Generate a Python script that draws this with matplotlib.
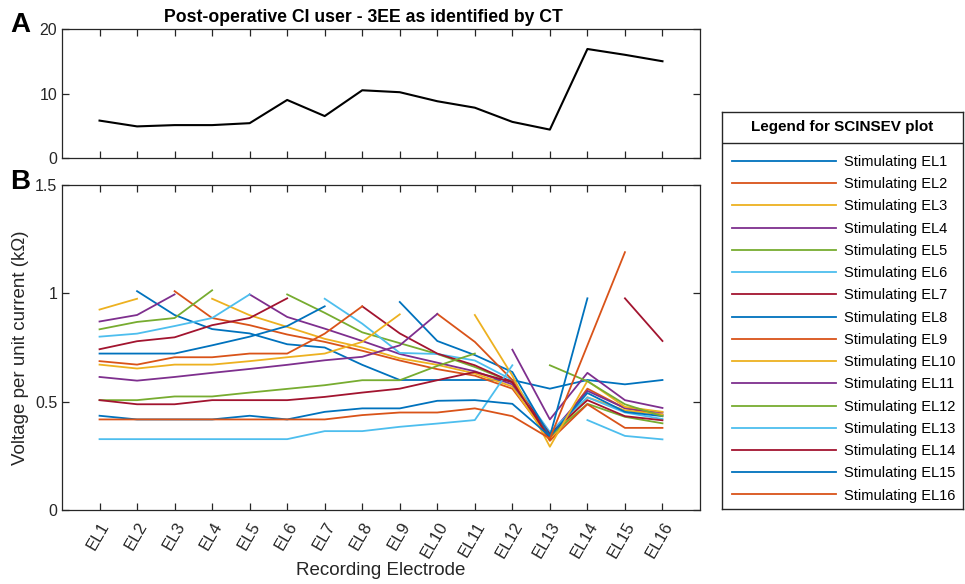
import matplotlib
matplotlib.use('Agg')
import matplotlib.pyplot as plt
import numpy as np

plt.rcParams['font.family'] = ['Liberation Sans', 'DejaVu Sans']

nan = np.nan

electrodes = [f'EL{i}' for i in range(1, 17)]

# panel A: EL spread as identified by CT
ct_values = [5.8, 4.9, 5.1, 5.1, 5.4, 9.0, 6.5, 10.5, 10.2, 8.8, 7.8, 5.6, 4.4, 16.9, 16.0, 15.0]

# panel B: one row per stimulating electrode, NaN at the stimulating one
stim_el1 = [nan, 1.01, 0.90, 0.835, 0.815, 0.765, 0.75, 0.67, 0.60, 0.60, 0.60, 0.60, 0.56, 0.60, 0.58, 0.60]
stim_el2 = [0.69, nan, 1.01, 0.886, 0.853, 0.81, 0.776, 0.735, 0.69, 0.65, 0.62, 0.56, 0.33, 0.56, 0.47, 0.44]
stim_el3 = [0.925, 0.975, nan, 0.975, 0.899, 0.845, 0.79, 0.75, 0.70, 0.67, 0.63, 0.57, 0.32, 0.52, 0.46, 0.44]
stim_el4 = [0.87, 0.90, 0.995, nan, 0.995, 0.891, 0.837, 0.78, 0.72, 0.68, 0.64, 0.58, 0.35, 0.55, 0.47, 0.45]
stim_el5 = [0.834, 0.868, 0.886, 1.014, nan, 0.995, 0.91, 0.82, 0.77, 0.72, 0.66, 0.59, 0.34, 0.49, 0.43, 0.40]
stim_el6 = [0.80, 0.814, 0.849, 0.886, 0.995, nan, 0.975, 0.86, 0.725, 0.72, 0.69, 0.60, 0.36, 0.52, 0.45, 0.42]
stim_el7 = [0.742, 0.779, 0.797, 0.853, 0.886, 0.977, nan, 0.94, 0.815, 0.722, 0.668, 0.59, 0.35, 0.507, 0.433, 0.414]
stim_el8 = [0.722, 0.722, 0.722, 0.76, 0.80, 0.849, 0.94, nan, 0.96, 0.78, 0.715, 0.637, 0.34, 0.54, 0.453, 0.433]
stim_el9 = [0.687, 0.671, 0.705, 0.705, 0.722, 0.722, 0.814, 0.94, nan, 0.905, 0.776, 0.60, 0.32, 0.488, 0.379, 0.379]
stim_el10 = [0.671, 0.653, 0.671, 0.671, 0.687, 0.705, 0.722, 0.776, 0.903, nan, 0.90, 0.62, 0.292, 0.596, 0.476, 0.453]
stim_el11 = [0.614, 0.597, 0.614, 0.633, 0.651, 0.67, 0.691, 0.707, 0.76, 0.905, nan, 0.74, 0.418, 0.633, 0.507, 0.471]
stim_el12 = [0.507, 0.507, 0.524, 0.524, 0.542, 0.559, 0.576, 0.599, 0.599, 0.665, 0.722, nan, 0.668, 0.594, 0.488, 0.433]
stim_el13 = [0.327, 0.327, 0.327, 0.327, 0.327, 0.327, 0.364, 0.364, 0.384, 0.399, 0.415, 0.668, nan, 0.415, 0.342, 0.326]
stim_el14 = [0.507, 0.488, 0.488, 0.507, 0.507, 0.507, 0.522, 0.542, 0.56, 0.599, 0.637, 0.59, 0.33, nan, 0.977, 0.78]
stim_el15 = [0.435, 0.418, 0.418, 0.418, 0.435, 0.418, 0.453, 0.469, 0.469, 0.504, 0.507, 0.49, 0.34, 0.977, nan, 0.58]
stim_el16 = [0.418, 0.418, 0.418, 0.418, 0.418, 0.418, 0.418, 0.438, 0.45, 0.45, 0.469, 0.433, 0.33, 0.76, 1.19, nan]

scinsev = [stim_el1, stim_el2, stim_el3, stim_el4, stim_el5, stim_el6, stim_el7, stim_el8,
           stim_el9, stim_el10, stim_el11, stim_el12, stim_el13, stim_el14, stim_el15, stim_el16]
labels = [f'Stimulating EL{i}' for i in range(1, 17)]

# MATLAB default colour order
colors = ['#0072BD', '#D95319', '#EDB120', '#7E2F8E', '#77AC30', '#4DBEEE', '#A2142F']

x = np.arange(1, 17)
W, H = 965, 584
spine_col = '#262626'


def style_axes(ax):
    for s in ax.spines.values():
        s.set_color(spine_col)
        s.set_linewidth(0.9)
    ax.tick_params(direction='in', length=5, width=0.9, color=spine_col,
                   top=True, right=True, labelsize=11.5, labelcolor=spine_col)
    ax.set_xlim(0, 17)
    ax.set_xticks(x)


fig = plt.figure(figsize=(W / 100, H / 100), dpi=100)

axA = fig.add_axes([62 / W, 1 - 158 / H, 638 / W, 129 / H])
axA.plot(x, ct_values, color='black', lw=1.5)
style_axes(axA)
axA.set_ylim(0, 20)
axA.set_yticks([0, 10, 20])
axA.set_xticklabels([])
fig.text(363 / W, 1 - 17 / H, 'Post-operative CI user - 3EE as identified by CT',
         fontsize=12.7, fontweight='bold', ha='center', va='center')

axB = fig.add_axes([62 / W, 1 - 510 / H, 638 / W, 325 / H])
handles = []
for i, vals in enumerate(scinsev):
    h, = axB.plot(x, vals, color=colors[i % 7], lw=1.3, label=labels[i])
    handles.append(h)
style_axes(axB)
axB.set_ylim(0, 1.5)
axB.set_yticks([0, 0.5, 1, 1.5])
axB.set_yticklabels(['0', '0.5', '1', '1.5'])
axB.set_xticklabels(electrodes, rotation=60, ha='right', rotation_mode='anchor', fontsize=12)
axB.tick_params(axis='x', pad=7)
axB.set_xlabel('Recording Electrode', fontsize=13.5, color=spine_col, labelpad=1)
axB.set_ylabel('Voltage per unit current (k\u03a9)', fontsize=13.5, color=spine_col)

fig.text(10 / W, 1 - 25 / H, 'A', fontsize=20, fontweight='bold', va='center')
fig.text(10 / W, 1 - 182 / H, 'B', fontsize=20, fontweight='bold', va='center')

# legend box drawn as its own axes
axL = fig.add_axes([722 / W, 1 - 509 / H, 241 / W, 397 / H])
axL.set_xticks([])
axL.set_yticks([])
for s in axL.spines.values():
    s.set_color(spine_col)
    s.set_linewidth(1.0)
axL.axhline(1 - 31 / 397, color=spine_col, lw=1.0)
axL.text(0.5, 1 - 15.5 / 397, 'Legend for SCINSEV plot', transform=axL.transAxes,
         ha='center', va='center', fontsize=11, fontweight='bold')
axL.legend(handles=handles, loc='upper left', bbox_to_anchor=(10 / 241, 1 - 43 / 397),
           frameon=False, fontsize=10.5, handlelength=7.1, handletextpad=0.55,
           labelspacing=0.565, borderpad=0, borderaxespad=0)

fig.savefig('out.png', dpi=100)
